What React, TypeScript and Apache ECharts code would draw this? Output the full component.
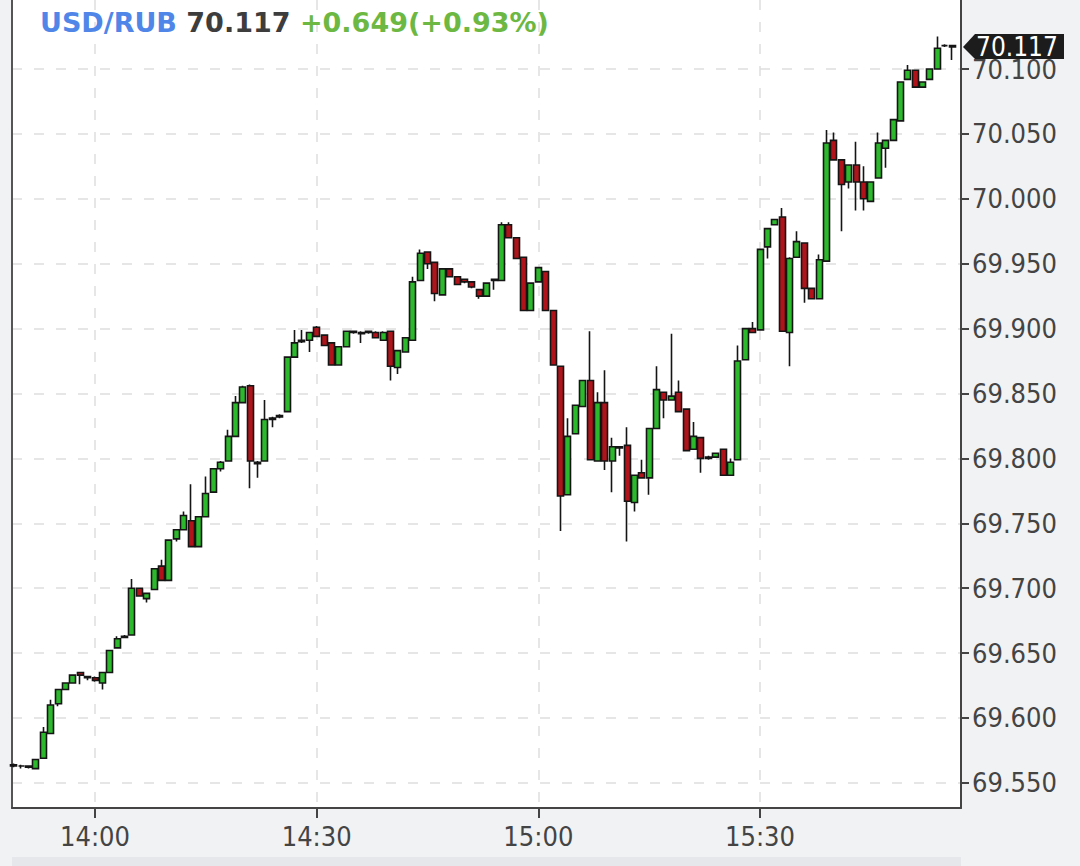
import React, { useEffect, useRef } from "react";
import * as echarts from "echarts";

// ---- data ----
const pair = "USD/RUB";
const lastPriceText = "70.117";
const lastPrice = 70.117;
const changeText = "+0.649(+0.93%)";

const times = [
  "13:49", "13:50", "13:51", "13:52", "13:53", "13:54", "13:55", "13:56", "13:57", "13:58",
  "13:59", "14:00", "14:01", "14:02", "14:03", "14:04", "14:05", "14:06", "14:07", "14:08",
  "14:09", "14:10", "14:11", "14:12", "14:13", "14:14", "14:15", "14:16", "14:17", "14:18",
  "14:19", "14:20", "14:21", "14:22", "14:23", "14:24", "14:25", "14:26", "14:27", "14:28",
  "14:29", "14:30", "14:31", "14:32", "14:33", "14:34", "14:35", "14:36", "14:37", "14:38",
  "14:39", "14:40", "14:41", "14:42", "14:43", "14:44", "14:45", "14:46", "14:47", "14:48",
  "14:49", "14:50", "14:51", "14:52", "14:53", "14:54", "14:55", "14:56", "14:57", "14:58",
  "14:59", "15:00", "15:01", "15:02", "15:03", "15:04", "15:05", "15:06", "15:07", "15:08",
  "15:09", "15:10", "15:11", "15:12", "15:13", "15:14", "15:15", "15:16", "15:17", "15:18",
  "15:19", "15:20", "15:21", "15:22", "15:23", "15:24", "15:25", "15:26", "15:27", "15:28",
  "15:29", "15:30", "15:31", "15:32", "15:33", "15:34", "15:35", "15:36", "15:37", "15:38",
  "15:39", "15:40", "15:41", "15:42", "15:43", "15:44", "15:45", "15:46", "15:47", "15:48",
  "15:49", "15:50", "15:51", "15:52", "15:53", "15:54", "15:55", "15:56",
];

const opens = [
  69.564, 69.563, 69.563, 69.561, 69.569, 69.588, 69.611, 69.622, 69.627, 69.635,
  69.632, 69.631, 69.627, 69.635, 69.654, 69.662, 69.664, 69.700, 69.692, 69.699,
  69.717, 69.706, 69.738, 69.745, 69.752, 69.732, 69.755, 69.774, 69.792, 69.798,
  69.817, 69.843, 69.856, 69.797, 69.798, 69.830, 69.832, 69.836, 69.878, 69.890,
  69.891, 69.901, 69.895, 69.889, 69.872, 69.886, 69.898, 69.897, 69.898, 69.897,
  69.891, 69.898, 69.870, 69.882, 69.891, 69.937, 69.959, 69.951, 69.926, 69.946,
  69.940, 69.938, 69.936, 69.930, 69.925, 69.937, 69.937, 69.980, 69.970, 69.955,
  69.914, 69.936, 69.944, 69.914, 69.871, 69.772, 69.819, 69.840, 69.860, 69.798,
  69.843, 69.798, 69.809, 69.810, 69.766, 69.789, 69.785, 69.823, 69.851, 69.845,
  69.851, 69.838, 69.807, 69.816, 69.801, 69.801, 69.807, 69.787, 69.799, 69.876,
  69.900, 69.899, 69.963, 69.980, 69.986, 69.897, 69.955, 69.966, 69.931, 69.923,
  69.952, 70.045, 70.030, 70.013, 70.026, 70.013, 69.998, 70.016, 70.039, 70.045,
  70.060, 70.092, 70.099, 70.086, 70.092, 70.100, 70.118, 70.118,
];

const closes = [
  69.563, 69.563, 69.562, 69.568, 69.589, 69.610, 69.622, 69.627, 69.633, 69.633,
  69.631, 69.629, 69.635, 69.652, 69.661, 69.663, 69.700, 69.694, 69.696, 69.715,
  69.706, 69.737, 69.745, 69.756, 69.732, 69.755, 69.773, 69.792, 69.797, 69.817,
  69.843, 69.855, 69.798, 69.796, 69.830, 69.831, 69.833, 69.878, 69.889, 69.891,
  69.897, 69.894, 69.887, 69.872, 69.886, 69.898, 69.897, 69.896, 69.897, 69.893,
  69.897, 69.871, 69.883, 69.893, 69.936, 69.958, 69.950, 69.927, 69.946, 69.940,
  69.934, 69.936, 69.932, 69.925, 69.935, 69.938, 69.980, 69.970, 69.954, 69.914,
  69.935, 69.947, 69.914, 69.872, 69.771, 69.817, 69.841, 69.860, 69.799, 69.843,
  69.798, 69.809, 69.808, 69.767, 69.787, 69.785, 69.823, 69.853, 69.845, 69.848,
  69.836, 69.806, 69.817, 69.800, 69.800, 69.804, 69.787, 69.797, 69.875, 69.900,
  69.897, 69.961, 69.977, 69.984, 69.898, 69.954, 69.967, 69.931, 69.923, 69.953,
  70.043, 70.030, 70.011, 70.026, 70.013, 70.000, 70.013, 70.043, 70.045, 70.061,
  70.090, 70.099, 70.086, 70.090, 70.100, 70.116, 70.118, 70.117,
];

const lows = [
  69.562, 69.561, 69.561, 69.561, 69.569, 69.588, 69.609, 69.622, 69.627, 69.626,
  69.629, 69.628, 69.622, 69.635, 69.654, 69.662, 69.664, 69.694, 69.689, 69.699,
  69.706, 69.706, 69.736, 69.745, 69.732, 69.732, 69.755, 69.774, 69.790, 69.798,
  69.817, 69.843, 69.777, 69.785, 69.798, 69.824, 69.831, 69.836, 69.878, 69.889,
  69.882, 69.894, 69.887, 69.872, 69.872, 69.886, 69.896, 69.889, 69.896, 69.893,
  69.891, 69.860, 69.865, 69.882, 69.891, 69.937, 69.946, 69.921, 69.926, 69.940,
  69.934, 69.935, 69.931, 69.923, 69.925, 69.930, 69.937, 69.970, 69.954, 69.914,
  69.914, 69.936, 69.914, 69.872, 69.744, 69.772, 69.819, 69.840, 69.799, 69.798,
  69.791, 69.774, 69.802, 69.736, 69.759, 69.785, 69.772, 69.823, 69.831, 69.845,
  69.836, 69.806, 69.807, 69.789, 69.799, 69.801, 69.787, 69.787, 69.799, 69.876,
  69.897, 69.899, 69.954, 69.980, 69.898, 69.871, 69.955, 69.920, 69.923, 69.923,
  69.952, 70.030, 69.975, 70.008, 69.991, 69.991, 69.998, 70.016, 70.024, 70.045,
  70.060, 70.092, 70.086, 70.086, 70.092, 70.100, 70.117, 70.107,
];

const highs = [
  69.565, 69.564, 69.563, 69.568, 69.593, 69.614, 69.622, 69.627, 69.633, 69.635,
  69.632, 69.632, 69.635, 69.652, 69.663, 69.664, 69.707, 69.700, 69.696, 69.715,
  69.722, 69.737, 69.745, 69.759, 69.780, 69.755, 69.786, 69.792, 69.798, 69.822,
  69.848, 69.856, 69.857, 69.798, 69.845, 69.832, 69.834, 69.878, 69.899, 69.899,
  69.897, 69.902, 69.895, 69.889, 69.886, 69.898, 69.898, 69.898, 69.898, 69.898,
  69.898, 69.898, 69.883, 69.893, 69.940, 69.961, 69.959, 69.951, 69.946, 69.946,
  69.940, 69.938, 69.936, 69.930, 69.935, 69.938, 69.982, 69.982, 69.970, 69.955,
  69.935, 69.947, 69.944, 69.914, 69.871, 69.831, 69.841, 69.860, 69.898, 69.851,
  69.868, 69.816, 69.809, 69.824, 69.787, 69.799, 69.823, 69.871, 69.851, 69.896,
  69.860, 69.838, 69.828, 69.816, 69.802, 69.804, 69.807, 69.800, 69.887, 69.900,
  69.905, 69.961, 69.977, 69.984, 69.993, 69.955, 69.975, 69.966, 69.931, 69.957,
  70.053, 70.051, 70.030, 70.026, 70.044, 70.025, 70.013, 70.051, 70.045, 70.061,
  70.090, 70.103, 70.099, 70.090, 70.100, 70.125, 70.119, 70.118,
];

const xTickLabels = ["14:00", "14:30", "15:00", "15:30"];
const yTickValues = [
  69.55, 69.6, 69.65, 69.7, 69.75, 69.8, 69.85, 69.9, 69.95, 70.0, 70.05, 70.1,
];

// visible window of the chart (axis extents)
const xStart = "13:48:46";
const xEnd = "15:57:12";
const yMin = 69.53066;
const yMax = 70.15316;

// ---- helpers ----
const BASE = 14 * 60; // 14:00 in minutes
function toMin(t: string): number {
  const p = t.split(":").map(Number);
  return p[0] * 60 + p[1] + (p[2] || 0) / 60 - BASE;
}
function fmtMin(v: number): string {
  const total = Math.round(v + BASE);
  const h = Math.floor(total / 60);
  const m = total % 60;
  return `${h}:${m < 10 ? "0" : ""}${m}`;
}

const AXIS_FONT = "'DejaVu Sans Condensed', 'DejaVu Sans', sans-serif";
const TITLE_FONT = "'DejaVu Sans', sans-serif";

export default function App() {
  const ref = useRef<HTMLDivElement>(null);

  useEffect(() => {
    if (!ref.current) return;
    const chart = echarts.init(ref.current, undefined, { renderer: "svg" });
    const data = times.map((t, i) => [toMin(t), opens[i], closes[i], lows[i], highs[i]]);
    const xTicks = xTickLabels.map(toMin);

    chart.setOption({
      animation: false,
      backgroundColor: "#f1f2f4",
      title: {
        text: `{a|${pair}} {b|${lastPriceText}} {c|${changeText}}`,
        left: 40,
        top: 9,
        padding: 0,
        textStyle: {
          fontSize: 27,
          fontWeight: "bold",
          fontFamily: TITLE_FONT,
          rich: {
            a: { color: "#4f86e8", fontSize: 27, fontWeight: "bold", fontFamily: TITLE_FONT },
            b: { color: "#3d3d3d", fontSize: 27, fontWeight: "bold", fontFamily: TITLE_FONT },
            c: { color: "#6cb843", fontSize: 27, fontWeight: "bold", fontFamily: TITLE_FONT },
          },
        },
      },
      grid: {
        left: 12,
        right: 119,
        top: 0,
        bottom: 58,
        show: true,
        backgroundColor: "#ffffff",
        borderWidth: 0,
      },
      xAxis: {
        type: "value",
        min: toMin(xStart),
        max: toMin(xEnd),
        axisLine: { show: true, onZero: false, lineStyle: { color: "#444", width: 2 } },
        axisTick: { show: true, length: 10, customValues: xTicks, lineStyle: { color: "#444", width: 2 } },
        axisLabel: {
          customValues: xTicks,
          formatter: (v: number) => fmtMin(v),
          margin: 15,
          color: "#444",
          fontSize: 27,
          fontFamily: AXIS_FONT,
        },
        splitLine: { show: true, lineStyle: { type: [10, 12], color: "#dedede", width: 1.5 } },
      },
      yAxis: [
        {
          type: "value",
          position: "right",
          min: yMin,
          max: yMax,
          axisLine: { show: true, onZero: false, lineStyle: { color: "#444", width: 2 } },
          axisTick: { show: true, length: 8, customValues: yTickValues, lineStyle: { color: "#444", width: 2 } },
          axisLabel: {
            customValues: yTickValues,
            formatter: (v: number) => v.toFixed(3),
            margin: 11,
            color: "#444",
            fontSize: 27,
            fontFamily: AXIS_FONT,
          },
          splitLine: { show: true, lineStyle: { type: [10, 12], color: "#dedede", width: 1.5 } },
        },
        {
          type: "value",
          position: "left",
          min: yMin,
          max: yMax,
          axisLine: { show: true, onZero: false, lineStyle: { color: "#555", width: 2 } },
          axisTick: { show: false },
          axisLabel: { show: false },
          splitLine: { show: false },
        },
      ],
      series: [
        {
          type: "candlestick",
          yAxisIndex: 0,
          data,
          encode: { x: 0, y: [1, 2, 3, 4] },
          barWidth: 6.5,
          itemStyle: {
            color: "#2cba2c",
            color0: "#b0141a",
            borderColor: "#151515",
            borderColor0: "#151515",
            borderColorDoji: "#151515",
            borderWidth: 1.6,
          },
        },
      ],
    });

    // last-price tag on the right axis
    const yPx = chart.convertToPixel({ yAxisIndex: 0 }, lastPrice) as number;
    const xRight = chart.convertToPixel({ xAxisIndex: 0 }, toMin(xEnd)) as number;
    const xLeft = chart.convertToPixel({ xAxisIndex: 0 }, toMin(xStart)) as number;
    const yBottom = chart.convertToPixel({ yAxisIndex: 0 }, yMin) as number;
    chart.setOption({
      graphic: [
        {
          type: "rect",
          z: 0,
          silent: true,
          shape: { x: xLeft, y: yBottom + 49, width: xRight - xLeft, height: 20 },
          style: { fill: "#e6e7ea" },
        },
        {
          type: "polygon",
          z: 100,
          silent: true,
          shape: {
            points: [
              [xRight + 2, yPx],
              [xRight + 14, yPx - 13],
              [xRight + 103, yPx - 13],
              [xRight + 103, yPx + 12],
              [xRight + 14, yPx + 12],
            ],
          },
          style: { fill: "#1c1c1c" },
        },
        {
          type: "text",
          z: 101,
          silent: true,
          x: xRight + 15,
          y: yPx,
          style: {
            text: lastPriceText,
            fill: "#ffffff",
            font: `26px ${AXIS_FONT}`,
            verticalAlign: "middle",
            align: "left",
          },
        },
      ],
    });

    return () => {
      chart.dispose();
    };
  }, []);

  return (
    <div
      ref={ref}
      style={{ position: "fixed", left: 0, top: 0, width: 1080, height: 866 }}
    />
  );
}
